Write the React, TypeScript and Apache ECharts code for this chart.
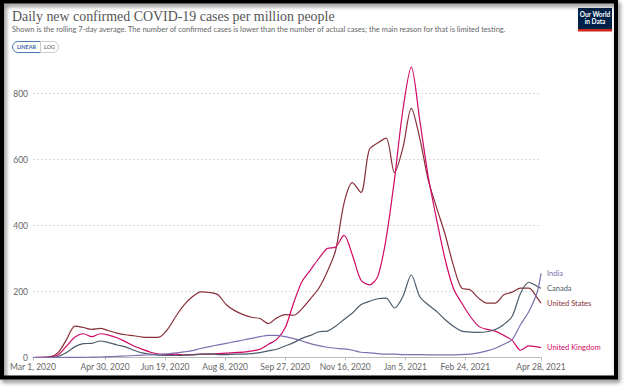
import React, { useEffect, useRef } from "react";
import * as echarts from "echarts";

// days since Mar 1, 2020
const days = [0,7,14,21,28,35,42,49,56,63,70,77,84,91,98,105,112,119,126,133,140,147,154,161,168,175,182,189,196,203,210,217,224,231,238,245,252,259,266,273,280,287,294,301,308,315,322,329,336,343,350,357,364,371,378,385,392,399,406,413,420,423];

const unitedStates = [0,0.5,2,15,55,95,91,85,88,81,74,69,66,62,61,62,85,125,160,185,199,197,190,160,142,130,122,118,103,120,130,128,148,178,210,260,325,468,530,500,630,650,665,560,635,755,665,540,455,375,280,210,205,180,165,165,190,198,210,210,180,165];
const unitedKingdom = [0,0.3,1,8,35,62,72,63,72,68,60,48,35,25,16,10,9,10,8,9,10,10,12,13,15,16,20,25,40,55,90,165,230,265,300,330,335,370,310,235,220,245,360,540,750,880,720,550,420,300,210,165,125,95,85,80,67,52,22,35,32,30];
const canada = [0,0,0.5,3,15,33,42,43,50,45,38,32,22,14,10,7,6,6,7,8,10,11,9,9,10,10,12,15,20,25,35,45,58,67,78,80,95,115,135,160,170,178,180,150,185,250,185,160,140,115,95,80,77,76,78,85,100,125,195,228,215,210];
const india = [0,0,0,0,0.1,0.2,0.5,1,1.5,2.5,3.5,4.5,6,7,8,9,11,14,17,21,28,33,38,43,48,53,58,63,67,67,63,57,50,42,36,31,28,26,22,16,14,12,10,10,9,9,9,8,8,8,8,9,10,14,20,28,40,55,100,140,200,255];

const tickDays = [0,60,110,160,210,260,310,360,423];
const tickLabels = ["Mar 1, 2020","Apr 30, 2020","Jun 19, 2020","Aug 8, 2020","Sep 27, 2020","Nov 16, 2020","Jan 5, 2021","Feb 24, 2021","Apr 28, 2021"];
const yTicks = [0,200,400,600,800];

const seriesNames = ["United States","United Kingdom","Canada","India"];
const seriesValues = [unitedStates, unitedKingdom, canada, india];
const seriesColors = ["#883039","#CF0A66","#4C5C6B","#7F6FB0"];

export default function App() {
  const ref = useRef<HTMLDivElement>(null);
  useEffect(() => {
    const chart = echarts.init(ref.current!, null, { renderer: "svg" });
    const font = "Lato, 'Noto Sans', sans-serif";
    chart.setOption({
      animation: false,
      backgroundColor: "#ffffff",
      grid: { left: 33, right: 83, top: 93.5, bottom: 34.5, containLabel: false },
      xAxis: {
        type: "value",
        min: 0,
        max: 423,
        splitLine: { show: false },
        axisLine: { show: true, lineStyle: { color: "#bbbbbb", width: 1 } },
        axisTick: { show: true, customValues: tickDays, length: 3, lineStyle: { color: "#bbbbbb" } },
        axisLabel: {
          customValues: tickDays,
          formatter: (v: number) => tickLabels[tickDays.indexOf(v)] ?? "",
          color: "#666666",
          fontFamily: font,
          fontSize: 8.5,
          margin: 5,
        },
      },
      yAxis: {
        type: "value",
        min: 0,
        max: 800,
        interval: 200,
        axisLine: { show: false },
        axisTick: { show: false },
        axisLabel: { color: "#666666", fontFamily: font, fontSize: 8.5, margin: 5, customValues: yTicks },
        splitLine: { show: true, lineStyle: { color: "#dddddd", type: [2, 2], width: 1 } },
      },
      series: seriesNames.map((name, si) => ({
        name,
        type: "line",
        clip: false,
        showSymbol: false,
        symbol: "none",
        smooth: 0.3,
        data: days.map((d, i) => [d, seriesValues[si][i]]),
        lineStyle: { color: seriesColors[si], width: 1.2 },
        itemStyle: { color: seriesColors[si] },
        endLabel: {
          show: true,
          formatter: name,
          color: seriesColors[si],
          fontFamily: font,
          fontSize: 7.5,
          distance: 6,
        },
      })),
      graphic: [
        {
          type: "text",
          x: 12,
          y: 8,
          scaleX: 0.96,
          style: {
            text: "Daily new confirmed COVID-19 cases per million people",
            font: "14.5px 'Liberation Serif', serif",
            fill: "#555555",
          },
        },
        {
          type: "text",
          x: 12,
          y: 25,
          scaleX: 0.94,
          style: {
            text: "Shown is the rolling 7-day average. The number of confirmed cases is lower than the number of actual cases; the main reason for that is limited testing.",
            font: "8px Lato, sans-serif",
            fill: "#666666",
          },
        },
        {
          type: "rect",
          shape: { x: 12.5, y: 41.5, width: 28, height: 11, r: [5.5, 0, 0, 5.5] },
          style: { fill: "#ffffff", stroke: "#4a7ab5", lineWidth: 1 },
        },
        {
          type: "rect",
          shape: { x: 40.5, y: 41.5, width: 18, height: 11, r: [0, 5.5, 5.5, 0] },
          style: { fill: "#ffffff", stroke: "#cccccc", lineWidth: 1 },
        },
        {
          type: "text",
          x: 26.5,
          y: 47,
          style: { text: "LINEAR", font: "bold 5.5px Lato, sans-serif", fill: "#3d6aa5", align: "center", verticalAlign: "middle" },
        },
        {
          type: "text",
          x: 49.5,
          y: 47,
          style: { text: "LOG", font: "bold 5.5px Lato, sans-serif", fill: "#888888", align: "center", verticalAlign: "middle" },
        },
        {
          type: "rect",
          shape: { x: 578, y: 8, width: 34, height: 21 },
          style: { fill: "#002147" },
        },
        {
          type: "rect",
          shape: { x: 578, y: 29, width: 34, height: 2.5 },
          style: { fill: "#ce261e" },
        },
        {
          type: "text",
          x: 595,
          y: 14,
          style: { text: "Our World", font: "bold 6.5px Lato, sans-serif", fill: "#ffffff", align: "center", verticalAlign: "middle" },
        },
        {
          type: "text",
          x: 595,
          y: 21.5,
          style: { text: "in Data", font: "bold 6.5px Lato, sans-serif", fill: "#ffffff", align: "center", verticalAlign: "middle" },
        },
        {
          type: "rect",
          shape: { x: 2, y: 1.5, width: 614, height: 376 },
          style: {
            fill: "none",
            stroke: "#000000",
            lineWidth: 4,
            shadowBlur: 4,
            shadowOffsetX: 2,
            shadowOffsetY: 3,
            shadowColor: "rgba(0,0,0,0.5)",
          },
        },
      ],
    });
    return () => chart.dispose();
  }, []);
  return (
    <div
      ref={ref}
      style={{ position: "fixed", left: 0, top: 0, width: 624, height: 392, background: "#ffffff" }}
    />
  );
}
